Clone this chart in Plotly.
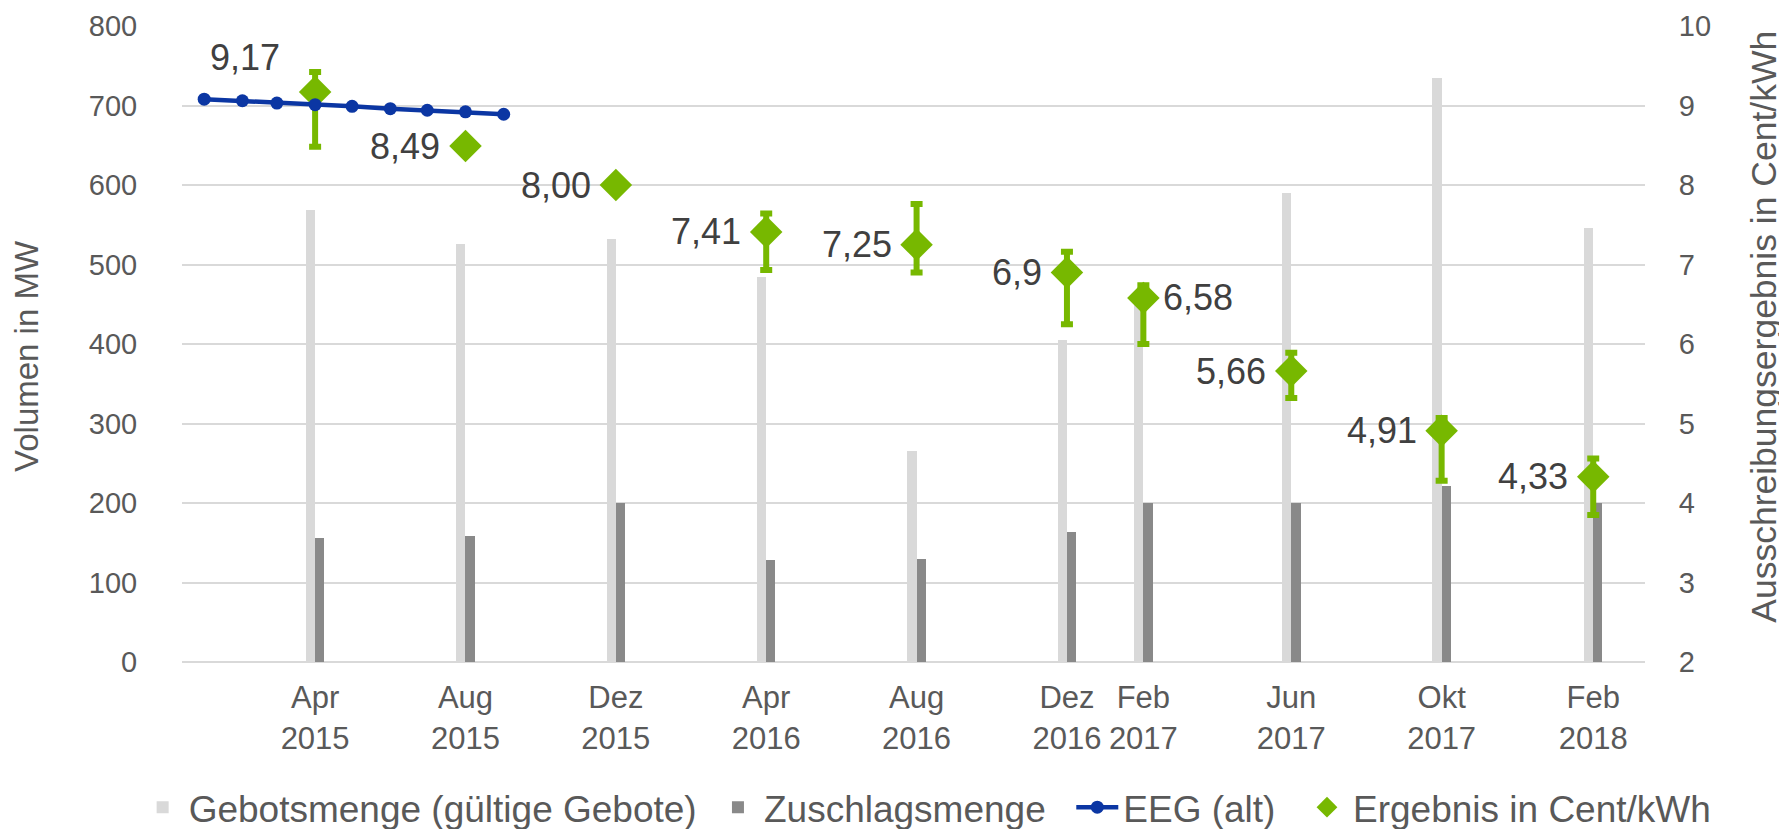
import plotly.graph_objects as go

# ---- data ----
auction_dates = ["2015-04-01", "2015-08-01", "2015-12-01", "2016-04-01", "2016-08-01",
                 "2016-12-01", "2017-02-01", "2017-06-01", "2017-10-01", "2018-02-01"]
tick_labels = ["Apr<br>2015", "Aug<br>2015", "Dez<br>2015", "Apr<br>2016", "Aug<br>2016",
               "Dez<br>2016", "Feb<br>2017", "Jun<br>2017", "Okt<br>2017", "Feb<br>2018"]
gebotsmenge = [569, 526, 532, 484, 266, 405, 450, 590, 734, 546]
zuschlagsmenge = [156, 159, 200, 128, 130, 163, 200, 200, 222, 200]
ergebnis = [9.17, 8.49, 8.00, 7.41, 7.25, 6.90, 6.58, 5.66, 4.91, 4.33]
ergebnis_labels = ["9,17", "8,49", "8,00", "7,41", "7,25", "6,9", "6,58", "5,66", "4,91", "4,33"]
ergebnis_min = [8.48, None, None, 6.93, 6.90, 6.25, 6.00, 5.32, 4.28, 3.85]
ergebnis_max = [9.42, None, None, 7.64, 7.76, 7.16, 6.74, 5.89, 5.07, 4.56]
label_pos = ["top left", "left", "left", "left", "left",
             "left", "right", "left", "left", "left"]
eeg_dates = ["2015-01-01", "2015-02-01", "2015-03-01", "2015-04-01", "2015-05-01",
             "2015-06-01", "2015-07-01", "2015-08-01", "2015-09-01"]
eeg_alt = [9.08, 9.06, 9.03, 9.01, 8.99, 8.96, 8.94, 8.92, 8.89]

err_plus = [None if hi is None else hi - v for v, hi in zip(ergebnis, ergebnis_max)]
err_minus = [None if lo is None else v - lo for v, lo in zip(ergebnis, ergebnis_min)]

DAY = 86400000
bar_w = 7.5 * DAY
FONT = "Liberation Sans, Arial, sans-serif"
TXT = "#595959"
NB = "\u00a0"

fig = go.Figure()
fig.add_trace(go.Bar(x=auction_dates, y=gebotsmenge, name="Gebotsmenge (gültige Gebote)" + NB,
                     marker_color="#d9d9d9", width=bar_w, offset=-bar_w, legendrank=1,
                     marker_line_width=0))
fig.add_trace(go.Bar(x=auction_dates, y=zuschlagsmenge, name="Zuschlagsmenge" + NB + NB,
                     marker_color="#898989", width=bar_w, offset=0, legendrank=2,
                     marker_line_width=0))
fig.add_trace(go.Scatter(x=auction_dates, y=ergebnis, yaxis="y2", mode="markers",
                         name="Ergebnis in Cent/kWh", legendrank=4,
                         marker=dict(symbol="diamond", size=25, color="#77b800"),
                         error_y=dict(type="data", symmetric=False, array=err_plus,
                                      arrayminus=err_minus, color="#77b800",
                                      thickness=6, width=6)))
fig.add_trace(go.Scatter(x=eeg_dates, y=eeg_alt, yaxis="y2", mode="lines+markers",
                         name="EEG (alt)" + NB + NB, legendrank=3,
                         line=dict(color="#0b36a3", width=4.5),
                         marker=dict(size=13, color="#0b36a3")))

# data labels placed at the data points through the axes
annotations = []
for d, v, lab, pos in zip(auction_dates, ergebnis, ergebnis_labels, label_pos):
    a = dict(x=d, y=v, xref="x", yref="y2", text=lab, showarrow=False,
             font=dict(size=36, color="#404040", family=FONT), yanchor="middle")
    if pos == "top left":
        a.update(xanchor="center", xshift=-70, yshift=34)
    elif pos == "left":
        a.update(xanchor="right", xshift=-23)
    else:
        a.update(xanchor="left", xshift=18)
    annotations.append(a)

annotations += [
    dict(text="Volumen in MW", xref="paper", yref="paper", x=-0.1067, y=0.481,
         textangle=-90, showarrow=False, font=dict(size=33, color=TXT),
         xanchor="center", yanchor="middle"),
    dict(text="Ausschreibungsergebnis in Cent/kWh", xref="paper", yref="paper",
         x=1.0813, y=0.527, textangle=-90, showarrow=False,
         font=dict(size=35.5, color=TXT), xanchor="center", yanchor="middle"),
]

fig.update_layout(
    width=1779, height=821,
    margin=dict(l=174, r=142, t=18, b=167, autoexpand=False),
    paper_bgcolor="white", plot_bgcolor="white",
    barmode="overlay", bargap=0,
    font=dict(family=FONT, color=TXT, size=30),
    showlegend=True,
    legend=dict(orientation="h", x=-0.031, xanchor="left",
                y=-0.229, yanchor="middle",
                font=dict(size=37, color=TXT), traceorder="normal", itemwidth=42,
                tracegroupgap=0, borderwidth=0, bgcolor="rgba(0,0,0,0)"),
    xaxis=dict(type="date", range=["2014-12-14", "2018-03-15"],
               tickvals=auction_dates, ticktext=tick_labels,
               showgrid=False, zeroline=False, showline=False,
               ticks="outside", ticklen=8, tickcolor="rgba(0,0,0,0)",
               tickfont=dict(size=31, color=TXT)),
    yaxis=dict(range=[0, 800], tickvals=[0, 100, 200, 300, 400, 500, 600, 700, 800],
               showgrid=True, gridcolor="#d9d9d9", gridwidth=2,
               zeroline=True, zerolinecolor="#d9d9d9", zerolinewidth=2,
               showline=False, ticks="outside", ticklen=38, tickcolor="rgba(0,0,0,0)",
               tickfont=dict(size=29, color=TXT)),
    yaxis2=dict(range=[2, 10], overlaying="y", side="right",
                tickvals=[2, 3, 4, 5, 6, 7, 8, 9, 10],
                showgrid=False, zeroline=False, showline=False,
                ticks="outside", ticklen=27, tickcolor="rgba(0,0,0,0)",
                tickfont=dict(size=29, color=TXT)),
    annotations=annotations,
)

fig.write_html("out.html")
